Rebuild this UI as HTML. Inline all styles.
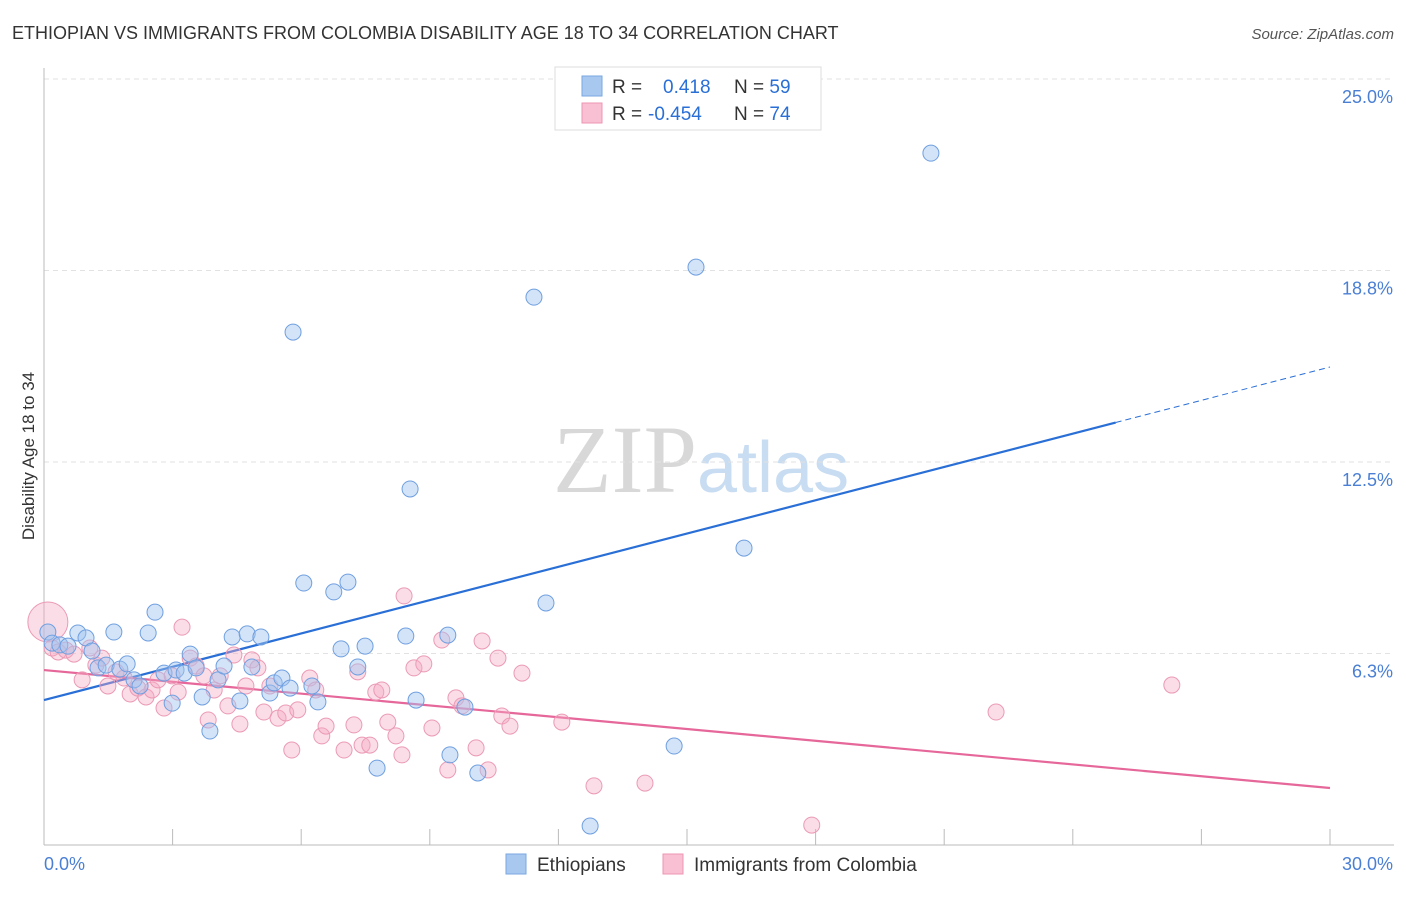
<!DOCTYPE html>
<html><head><meta charset="utf-8"><style>
body{margin:0;background:#fff;font-family:"Liberation Sans",sans-serif;}
</style></head><body>
<svg id="chart" width="1406" height="892" xmlns="http://www.w3.org/2000/svg" font-family="Liberation Sans, sans-serif">
<text x="12" y="39" font-size="18" fill="#333">ETHIOPIAN VS IMMIGRANTS FROM COLOMBIA DISABILITY AGE 18 TO 34 CORRELATION CHART</text>
<text x="1394" y="39" font-size="15" fill="#555" text-anchor="end" font-style="italic">Source: ZipAtlas.com</text>
<text x="553" y="492" font-size="96" font-family="Liberation Serif, serif" fill="#d8d8d8">ZIP<tspan fill="#c8dcf2" font-family="Liberation Sans, sans-serif" font-size="72">atlas</tspan></text>
<g id="grid"></g>
<g id="axes"></g>
<g id="lines"></g>
<g id="pts"></g>
<text transform="translate(34,456) rotate(-90)" font-size="17" fill="#333" text-anchor="middle">Disability Age 18 to 34</text>
<g>
<rect x="555" y="67" width="266" height="63" fill="#fff" stroke="#ddd"/>
<rect x="582" y="76" width="20" height="20" fill="#a9c8f0" stroke="#7aa7e2"/>
<rect x="582" y="103" width="20" height="20" fill="#f8c0d2" stroke="#ec96b2"/>
<text x="612" y="93" font-size="19" fill="#333">R = <tspan fill="#2a6fd6" x="663">0.418</tspan><tspan x="734" fill="#333">N = </tspan><tspan fill="#2a6fd6">59</tspan></text>
<text x="612" y="120" font-size="19" fill="#333">R = <tspan fill="#2a6fd6" x="648">-0.454</tspan><tspan x="734" fill="#333">N = </tspan><tspan fill="#2a6fd6">74</tspan></text>
</g>
<g>
<rect x="506" y="854" width="20" height="20" fill="#a9c8f0" stroke="#7aa7e2"/>
<text x="537" y="871" font-size="19" fill="#333">Ethiopians</text>
<rect x="663" y="854" width="20" height="20" fill="#f8c0d2" stroke="#ec96b2"/>
<text x="694" y="871" font-size="19" fill="#333">Immigrants from Colombia</text>
</g>
</svg>
<script>
const yTicks=[6.25,12.5,18.75,25];
const yTickLabels=["6.3%","12.5%","18.8%","25.0%"];
const xTicks=[0,3,6,9,12,15,18,21,24,27,30];
const blueX=[0.09,0.19,0.37,0.56,0.79,0.98,1.12,1.26,1.45,1.63,1.77,1.94,2.1,2.24,2.43,2.59,2.8,2.99,3.08,3.27,3.41,3.55,3.69,3.87,4.06,4.2,4.39,4.57,4.74,4.85,5.06,5.27,5.37,5.55,5.74,5.81,6.06,6.25,6.39,6.76,6.93,7.09,7.32,7.49,7.77,8.44,8.54,8.68,9.42,9.47,9.82,10.12,11.43,11.71,12.74,14.7,15.21,16.33,20.69];
const blueY=[6.95,6.59,6.53,6.49,6.92,6.76,6.33,5.78,5.87,6.95,5.74,5.91,5.39,5.19,6.92,7.6,5.61,4.63,5.71,5.61,6.23,5.78,4.83,3.72,5.39,5.84,6.79,4.7,6.89,5.81,6.79,4.96,5.29,5.45,5.12,16.74,8.55,5.19,4.67,8.26,6.4,8.58,5.81,6.49,2.51,6.82,11.62,4.73,6.85,2.94,4.5,2.35,17.88,7.9,0.62,3.23,18.86,9.69,22.58];
const pinkX=[0.09,0.19,0.33,0.51,0.7,0.89,1.07,1.21,1.35,1.49,1.68,1.87,2.01,2.19,2.38,2.52,2.66,2.8,2.99,3.13,3.22,3.41,3.55,3.73,3.83,3.97,4.11,4.29,4.43,4.57,4.71,4.85,4.99,5.13,5.27,5.46,5.64,5.78,5.92,6.2,6.34,6.48,6.58,7.0,7.23,7.32,7.42,7.6,7.74,7.88,8.02,8.21,8.35,8.4,8.63,8.86,9.05,9.28,9.42,9.61,9.75,10.08,10.22,10.36,10.59,10.68,10.87,11.15,12.08,12.83,14.02,17.91,22.21,26.31];
const pinkY=[7.28,6.43,6.3,6.36,6.23,5.39,6.43,5.87,6.1,5.19,5.65,5.45,4.93,5.12,4.83,5.06,5.39,4.47,5.52,4.99,7.11,6.1,5.84,5.52,4.08,5.06,5.52,4.54,6.2,3.95,5.19,6.04,5.78,4.34,5.19,4.14,4.31,3.1,4.41,5.45,5.06,3.56,3.88,3.1,3.92,5.65,3.26,3.26,4.99,5.06,4.01,3.56,2.94,8.13,5.78,5.91,3.82,6.69,2.45,4.8,4.54,3.17,6.66,2.45,6.1,4.21,3.88,5.61,4.01,1.93,2.02,0.65,4.34,5.22];
const blueTrend=[4.73,15.6]; // at x=0 and x=30
const blueSolidEnd=25;
const pinkTrend=[5.71,1.86];
const NS="http://www.w3.org/2000/svg";
const X=v=>44+v/30*1286;
const Y=v=>845-v/25*766;
function mk(tag,attrs,parent){const e=document.createElementNS(NS,tag);for(const k in attrs)e.setAttribute(k,attrs[k]);document.getElementById(parent).appendChild(e);return e;}
yTicks.forEach((t,i)=>{
 const g=mk('line',{x1:44,x2:1394,y1:Y(t),y2:Y(t),stroke:'#e2e2e2','stroke-dasharray':'5,4'},'grid');
 
 
 const l=mk('text',{x:1393,y:Y(t)+24,'font-size':18,fill:'#4a7fd4','text-anchor':'end'},'axes');
 l.textContent=yTickLabels[i];
 
 
});
const ya=mk('line',{x1:44,x2:44,y1:68,y2:845,stroke:'#bbb'},'axes');


const xa=mk('line',{x1:44,x2:1394,y1:845,y2:845,stroke:'#bbb'},'axes');


xTicks.forEach(t=>{
 const tk=mk('line',{x1:X(t),x2:X(t),y1:829,y2:845,stroke:'#bbb'},'axes');
 
 
});
const x0=mk('text',{x:44,y:870,'font-size':18,fill:'#4a7fd4'},'axes');x0.textContent='0.0%';


const x1=mk('text',{x:1393,y:870,'font-size':18,fill:'#4a7fd4','text-anchor':'end'},'axes');x1.textContent='30.0%';


pinkX.forEach((v,i)=>{
 const c=mk('circle',{cx:X(v),cy:Y(pinkY[i]),r:i===0?20:8,fill:'rgba(245,170,195,0.4)',stroke:'#eb9ab5','stroke-width':1},'pts');
 
 
});
blueX.forEach((v,i)=>{
 const c=mk('circle',{cx:X(v),cy:Y(blueY[i]),r:8,fill:'rgba(160,195,240,0.45)',stroke:'#6f9fe0','stroke-width':1},'pts');
 
 
});
const by=x=>blueTrend[0]+(blueTrend[1]-blueTrend[0])*x/30;
const bl=mk('line',{x1:X(0),y1:Y(by(0)),x2:X(blueSolidEnd),y2:Y(by(blueSolidEnd)),stroke:'#2a6fd6','stroke-width':2.2},'lines');


const bd=mk('line',{x1:X(blueSolidEnd),y1:Y(by(blueSolidEnd)),x2:X(30),y2:Y(by(30)),stroke:'#2a6fd6','stroke-width':1,'stroke-dasharray':'6,4'},'lines');


const pl=mk('line',{x1:X(0),y1:Y(pinkTrend[0]),x2:X(30),y2:Y(pinkTrend[1]),stroke:'#e6679a','stroke-width':2.2},'lines');


</script>
</body></html>
